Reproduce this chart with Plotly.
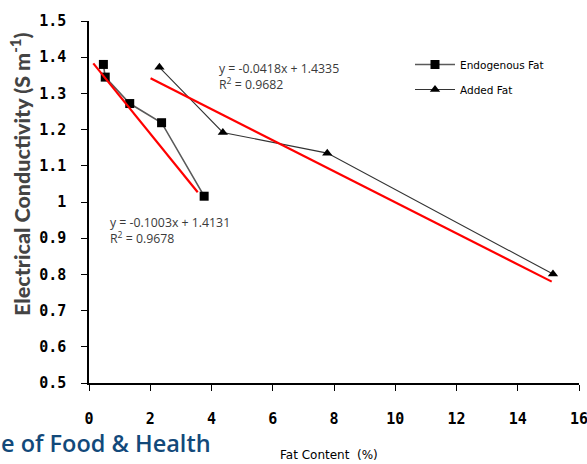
import plotly.graph_objects as go

# ---- data ----
endo_x = [0.47, 0.53, 1.33, 2.37, 3.76]
endo_y = [1.380, 1.345, 1.272, 1.219, 1.016]
added_x = [2.30, 4.37, 7.78, 15.15]
added_y = [1.372, 1.192, 1.135, 0.801]
trend_endo_x = [0.14, 3.55]
trend_endo_y = [1.383, 1.027]
trend_added_x = [2.01, 15.11]
trend_added_y = [1.342, 0.780]
eq_endo = "y = -0.1003x + 1.4131<br>R<sup>2</sup> = 0.9678"
eq_added = "y = -0.0418x + 1.4335<br>R<sup>2</sup> = 0.9682"
x_ticks = [0, 2, 4, 6, 8, 10, 12, 14, 16]
y_ticks = [0.5, 0.6, 0.7, 0.8, 0.9, 1.0, 1.1, 1.2, 1.3, 1.4, 1.5]
y_tick_text = ["0.5", "0.6", "0.7", "0.8", "0.9", "1", "1.1", "1.2", "1.3", "1.4", "1.5"]

W, H = 587, 464
L, R, T, B = 89, 8, 21, 81
pw, ph = W - L - R, H - T - B

def px(xp):
    return (xp - L) / pw

def py(yp):
    return (H - B - yp) / ph

fig = go.Figure()
fig.add_trace(go.Scatter(
    x=endo_x, y=endo_y, mode="lines+markers", name="Endogenous Fat",
    line=dict(color="#5a5a5a", width=1.6),
    marker=dict(symbol="square", size=9, color="black"),
    legendgroup="a", cliponaxis=False))
fig.add_trace(go.Scatter(
    x=added_x, y=added_y, mode="lines+markers", name="Added Fat",
    line=dict(color="#333333", width=1.1),
    marker=dict(symbol="triangle-up", size=9, color="black"),
    legendgroup="b", cliponaxis=False))
fig.add_trace(go.Scatter(
    x=trend_endo_x, y=trend_endo_y, mode="lines", showlegend=False,
    line=dict(color="#ff0000", width=2.2)))
fig.add_trace(go.Scatter(
    x=trend_added_x, y=trend_added_y, mode="lines", showlegend=False,
    line=dict(color="#ff0000", width=2.2)))

tickfont = dict(family="DejaVu Sans Mono", size=15, color="black", weight="bold")

fig.update_xaxes(range=[0, 16], tickvals=x_ticks, showline=True, linecolor="black",
                 linewidth=1.5, ticks="outside", ticklen=6, tickcolor="black",
                 showgrid=False, zeroline=False, tickfont=tickfont, ticklabelstandoff=15,
                 automargin=False, ticklabeloverflow="allow")
fig.update_yaxes(range=[0.5, 1.5], tickvals=y_ticks, ticktext=y_tick_text, showline=True,
                 linecolor="black", linewidth=1.5, ticks="outside", ticklen=6,
                 tickcolor="black", showgrid=False, zeroline=False, tickfont=tickfont,
                 ticklabelstandoff=12, automargin=False)

annos = [
    dict(x=0.61, y=0.92, xref="x", yref="y", text=eq_endo, showarrow=False,
         xanchor="left", yanchor="middle", align="left",
         font=dict(family="Open Sans", size=12.3, color="#3a3a3a")),
    dict(x=4.17, y=1.346, xref="x", yref="y", text=eq_added, showarrow=False,
         xanchor="left", yanchor="middle", align="left",
         font=dict(family="Open Sans", size=12.3, color="#3a3a3a")),
    dict(x=px(20), y=py(174), xref="paper", yref="paper",
         text="Electrical Conductivity (S m<sup>-1</sup>)", textangle=-90,
         showarrow=False, xanchor="center", yanchor="middle",
         font=dict(family="Lato", size=21.5, color="#444444", weight=900)),
    dict(x=px(329), y=py(455), xref="paper", yref="paper", text="Fat Content  (%)",
         showarrow=False, xanchor="center", yanchor="middle",
         font=dict(family="DejaVu Sans", size=12, color="black")),
    dict(x=px(-1), y=py(443), xref="paper", yref="paper", text="e of Food &amp; Health",
         showarrow=False, xanchor="left", yanchor="middle",
         font=dict(family="Open Sans", size=23.5, color="#12497a", weight=600)),
]

fig.update_layout(
    width=W, height=H, margin=dict(l=L, r=R, t=T, b=B, autoexpand=False),
    paper_bgcolor="white", plot_bgcolor="white",
    showlegend=True,
    legend=dict(x=px(410), y=py(50), xanchor="left", yanchor="top",
                font=dict(family="DejaVu Sans", size=10.5, color="black"),
                bgcolor="rgba(0,0,0,0)", tracegroupgap=6, itemwidth=40),
    annotations=annos,
)

fig.write_html("out.html", config={"displayModeBar": False},
               post_script="document.body.style.margin='0';")
